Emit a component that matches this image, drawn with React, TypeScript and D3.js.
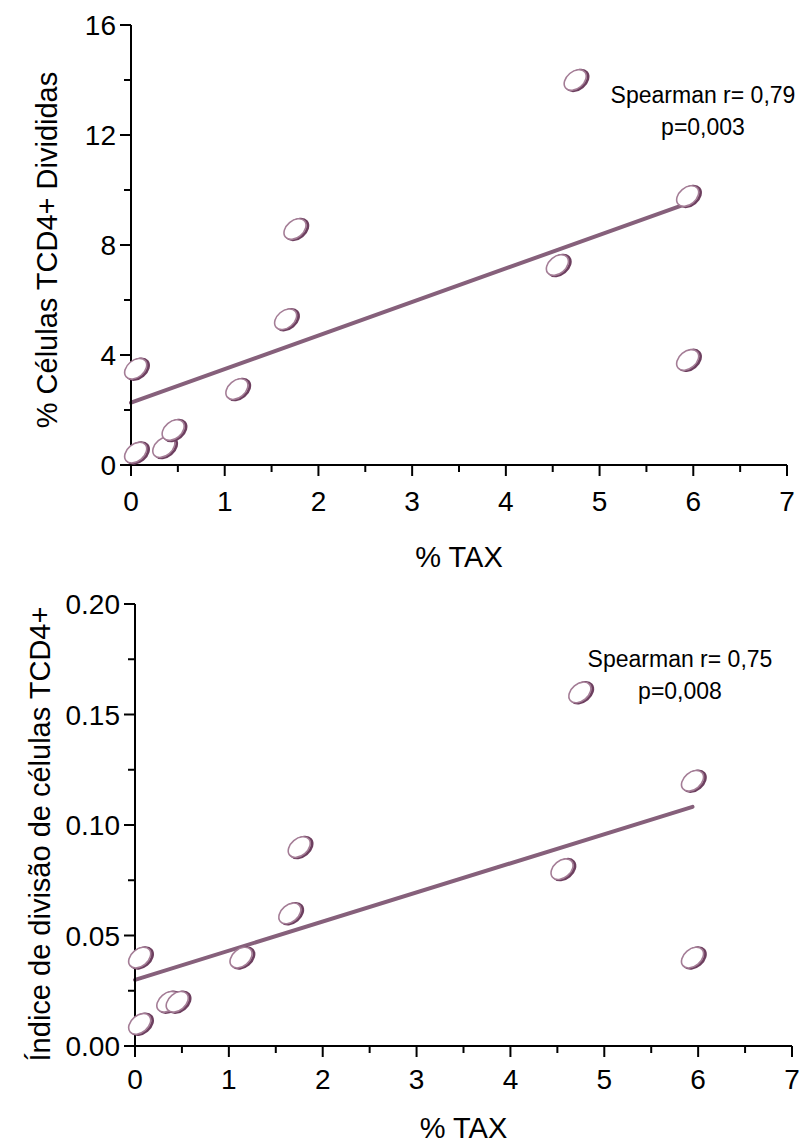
import React from "react";
import * as d3 from "d3";

// % TAX of each subject (shared by both panels)
const taxPct = [0.05, 0.05, 0.35, 0.45, 1.13, 1.65, 1.75, 4.55, 4.74, 5.94, 5.94];
// % of divided TCD4+ cells
const dividedPct = [0.45, 3.5, 0.65, 1.27, 2.76, 5.3, 8.58, 7.27, 14.0, 9.78, 3.82];
// division index of TCD4+ cells
const divisionIndex = [0.01, 0.04, 0.02, 0.02, 0.04, 0.06, 0.09, 0.08, 0.16, 0.12, 0.04];

const xTicks = [0, 1, 2, 3, 4, 5, 6, 7];
const xMinorTicks = [0.5, 1.5, 2.5, 3.5, 4.5, 5.5, 6.5];
const topYTicks = [0, 4, 8, 12, 16];
const topYMinor = [2, 6, 10, 14];
const bottomYTicks = [0, 0.05, 0.1, 0.15, 0.2];
const bottomYMinor = [0.025, 0.075, 0.125, 0.175];

const FONT = "'Liberation Sans', Arial, Helvetica, sans-serif";
const LINE = "#86607b";
const MARK_DARK = "#6d3f5f";
const MARK_LIGHT = "#a47d96";

function fit(xs: number[], ys: number[]) {
  const mx = d3.mean(xs)!;
  const my = d3.mean(ys)!;
  const sxy = d3.sum(xs, (x, i) => (x - mx) * (ys[i] - my));
  const sxx = d3.sum(xs, (x) => (x - mx) ** 2);
  const slope = sxy / sxx;
  return { slope, intercept: my - slope * mx };
}

type PanelProps = {
  xs: number[];
  ys: number[];
  yMax: number;
  yTicks: number[];
  yMinor: number[];
  yFmt: (v: number) => string;
  left: number;
  right: number;
  top: number;
  bottom: number;
  yTitle: string;
  yTitleX: number;
  yTitleY: number;
  xTickBaseline: number;
  xTitleBaseline: number;
  statX: number;
  statY: number;
  r: string;
  p: string;
};

function Panel(props: PanelProps) {
  const {
    xs, ys, yMax, yTicks, yMinor, yFmt, left, right, top, bottom,
    yTitle, yTitleX, yTitleY, xTickBaseline, xTitleBaseline, statX, statY, r, p,
  } = props;
  const x = d3.scaleLinear().domain([0, 7]).range([left, right]);
  const y = d3.scaleLinear().domain([0, yMax]).range([bottom, top]);
  const { slope, intercept } = fit(xs, ys);
  const xEnd = d3.max(xs)!;
  const linePath = d3.line<number>()
    .x((v) => x(v))
    .y((v) => y(intercept + slope * v))([0, xEnd]);

  return (
    <g>
      {/* regression line */}
      <path d={linePath || ""} stroke={LINE} strokeWidth={4} fill="none" strokeLinecap="round" />

      {/* axes */}
      <line x1={left} x2={left} y1={top} y2={bottom} stroke="#000" strokeWidth={2} />
      <line x1={left} x2={right} y1={bottom} y2={bottom} stroke="#000" strokeWidth={2} />
      {yTicks.map((t) => (
        <g key={"yt" + t}>
          <line x1={left - 11} x2={left} y1={y(t)} y2={y(t)} stroke="#000" strokeWidth={2} />
          <text x={left - 15} y={y(t)} dy="0.36em" textAnchor="end" fontSize={28} fontFamily={FONT}>
            {yFmt(t)}
          </text>
        </g>
      ))}
      {yMinor.map((t) => (
        <line key={"ym" + t} x1={left - 7} x2={left} y1={y(t)} y2={y(t)} stroke="#000" strokeWidth={2} />
      ))}
      {xTicks.map((t) => (
        <g key={"xt" + t}>
          <line x1={x(t)} x2={x(t)} y1={bottom} y2={bottom + 11} stroke="#000" strokeWidth={2} />
          <text x={x(t)} y={xTickBaseline} textAnchor="middle" fontSize={28} fontFamily={FONT}>
            {t}
          </text>
        </g>
      ))}
      {xMinorTicks.map((t) => (
        <line key={"xm" + t} x1={x(t)} x2={x(t)} y1={bottom} y2={bottom + 7} stroke="#000" strokeWidth={2} />
      ))}

      {/* data points: tilted open ellipses with a shaded rim */}
      {xs.map((v, i) => {
        const cx = x(v);
        const cy = y(ys[i]);
        return (
          <g key={"pt" + i} transform={`translate(${cx},${cy}) rotate(-40)`}>
            <ellipse cx={1.2} cy={1.5} rx={12.5} ry={8.5} fill="none" stroke={MARK_DARK} strokeWidth={2.8} />
            <ellipse cx={0} cy={0} rx={12.5} ry={8.5} fill="#fff" stroke={MARK_LIGHT} strokeWidth={1.6} />
          </g>
        );
      })}

      {/* titles */}
      <text x={(left + right) / 2} y={xTitleBaseline} textAnchor="middle" fontSize={29} fontFamily={FONT}>
        % TAX
      </text>
      <text
        transform={`translate(${yTitleX},${yTitleY}) rotate(-90)`}
        textAnchor="middle"
        fontSize={29}
        fontFamily={FONT}
      >
        {yTitle}
      </text>

      {/* correlation annotation */}
      <text x={statX} y={statY} textAnchor="middle" fontSize={23} fontFamily={FONT}>
        {r}
      </text>
      <text x={statX} y={statY + 32} textAnchor="middle" fontSize={23} fontFamily={FONT}>
        {p}
      </text>
    </g>
  );
}

export default function App() {
  return (
    <div style={{ position: "absolute", left: 0, top: 0 }}>
      <svg width={800} height={1146} style={{ display: "block", background: "#fff" }}>
        <Panel
          xs={taxPct}
          ys={dividedPct}
          yMax={16}
          yTicks={topYTicks}
          yMinor={topYMinor}
          yFmt={(v) => String(v)}
          left={131}
          right={787}
          top={25}
          bottom={465}
          yTitle="% Células TCD4+ Divididas"
          yTitleX={57}
          yTitleY={250}
          xTickBaseline={511}
          xTitleBaseline={567}
          statX={703}
          statY={103}
          r="Spearman r= 0,79"
          p="p=0,003"
        />
        <Panel
          xs={taxPct}
          ys={divisionIndex}
          yMax={0.2}
          yTicks={bottomYTicks}
          yMinor={bottomYMinor}
          yFmt={(v) => v.toFixed(2)}
          left={135}
          right={792}
          top={604}
          bottom={1046}
          yTitle="Índice de divisão de células TCD4+"
          yTitleX={50}
          yTitleY={834}
          xTickBaseline={1089}
          xTitleBaseline={1138}
          statX={680}
          statY={667}
          r="Spearman r= 0,75"
          p="p=0,008"
        />
      </svg>
    </div>
  );
}
